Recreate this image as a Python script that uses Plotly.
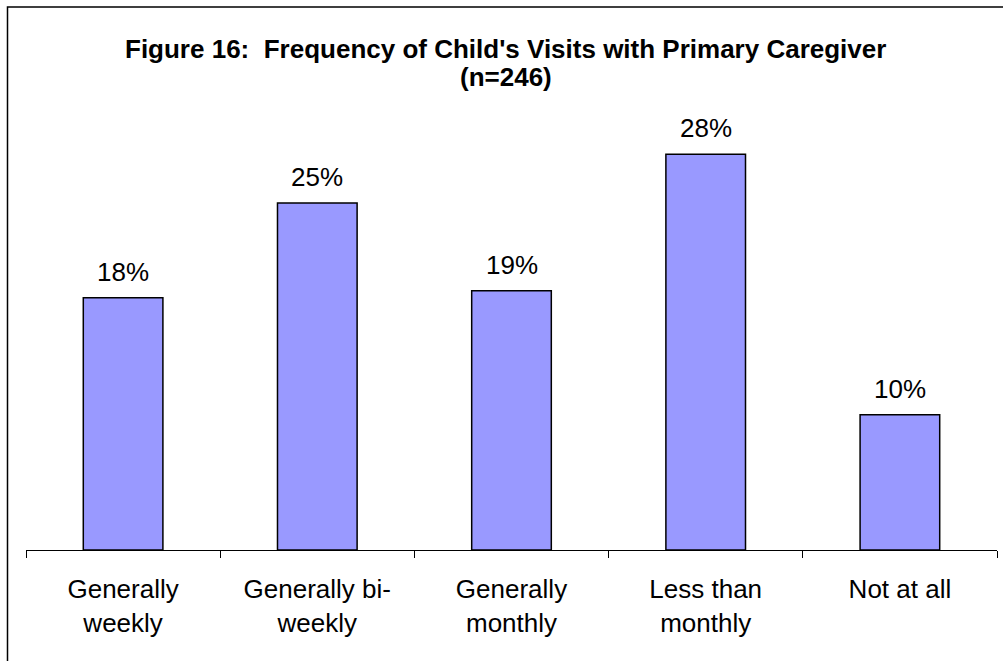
import plotly.graph_objects as go

categories = ["Generally<br>weekly", "Generally bi-<br>weekly", "Generally<br>monthly",
              "Less than<br>monthly", "Not at all"]
values = [18.1, 24.9, 18.6, 28.4, 9.7]
labels = ["18%", "25%", "19%", "28%", "10%"]
title_lines = ["Figure 16:  Frequency of Child's Visits with Primary Caregiver", "(n=246)"]

FONT = "Liberation Sans, Arial"
fig = go.Figure()
fig.add_trace(go.Bar(
    x=categories, y=values,
    marker=dict(color="#9999FF", line=dict(color="black", width=1.5)),
    hoverinfo="skip",
))

for c, v, t in zip(categories, values, labels):
    fig.add_annotation(x=c, y=v, text=t, showarrow=False, yanchor="bottom",
                       yshift=9, font=dict(family=FONT, size=26, color="black"))

for i, line in enumerate(title_lines):
    fig.add_annotation(
        xref="paper", yref="paper", x=0.494, y=(550 - (49 + 28 * i)) / 418, yanchor="middle",
        text="<b>" + line + "</b>",
        showarrow=False, font=dict(family=FONT, size=26, color="black"),
    )

fig.add_shape(type="rect", xref="paper", yref="paper",
              x0=(7.5 - 26) / 971, x1=1.05, y0=-0.4, y1=(550 - 7) / 418,
              line=dict(color="black", width=1.5), layer="above")

fig.update_layout(
    width=1003, height=661,
    margin=dict(l=26, r=6, t=132, b=111),
    paper_bgcolor="white", plot_bgcolor="white",
    bargap=0.59, showlegend=False,
    font=dict(family=FONT, color="black"),
)
fig.update_xaxes(
    showline=True, linecolor="black", linewidth=1,
    ticks="outside", tickson="boundaries", ticklen=7, tickcolor="black",
    tickfont=dict(size=26, color="black"), ticklabelstandoff=16,
    showgrid=False, zeroline=False,
)
fig.update_yaxes(range=[0, 30], visible=False, showgrid=False, zeroline=False)

fig.write_html("out.html")
